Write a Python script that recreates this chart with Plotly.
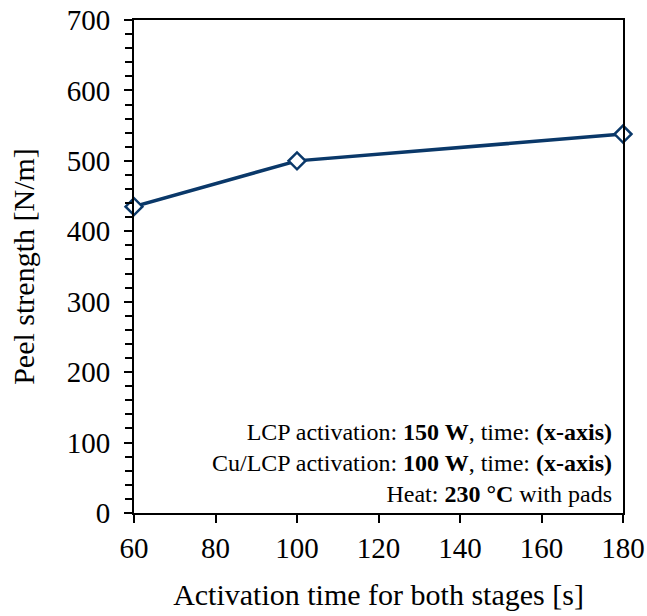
import plotly.graph_objects as go

time_s = [60, 100, 180]
peel_strength = [435, 500, 538]
x_ticks = [60, 80, 100, 120, 140, 160, 180]
y_ticks = [0, 100, 200, 300, 400, 500, 600, 700]
note_lines = [
    "LCP activation: <b>150 W</b>, time: <b>(x-axis)</b>",
    "Cu/LCP activation: <b>100 W</b>, time: <b>(x-axis)</b>",
    "Heat: <b>230 °C</b> with pads",
]

FONT = "Liberation Serif"
color = "#0a3869"

fig = go.Figure()
fig.add_trace(go.Scatter(
    x=time_s, y=peel_strength, mode="lines+markers",
    line=dict(color=color, width=3.5),
    marker=dict(symbol="diamond", size=13, color="white",
                line=dict(color=color, width=2.5)),
    cliponaxis=False, showlegend=False,
))

fig.add_annotation(
    x=1, y=0, xref="paper", yref="paper", xanchor="right", yanchor="bottom",
    xshift=-9, yshift=4, align="right", showarrow=False,
    text="<br>".join(note_lines),
    font=dict(family=FONT, size=24, color="black"),
)

axis_common = dict(
    showline=True, linecolor="black", linewidth=2, mirror=True,
    showgrid=False, zeroline=False, ticks="outside", ticklen=8,
    tickwidth=2, tickcolor="black", automargin=False,
    ticklabeloverflow="allow",
    tickfont=dict(family=FONT, size=29, color="black"),
)

fig.update_xaxes(
    range=[60, 180], tickvals=x_ticks, ticklabelstandoff=0,
    title=dict(text="Activation time for both stages [s]",
               font=dict(family=FONT, size=30, color="black"), standoff=21),
    **axis_common,
)
fig.update_yaxes(
    range=[0, 700], tickvals=y_ticks, ticklabelstandoff=8,
    minor=dict(ticks="outside", dtick=20, ticklen=7, tickwidth=2, tickcolor="black"),
    title=dict(text="Peel strength [N/m]",
               font=dict(family=FONT, size=30, color="black"), standoff=23),
    **axis_common,
)

fig.update_layout(
    width=647, height=616,
    margin=dict(l=134, r=24, t=20, b=103),
    paper_bgcolor="white", plot_bgcolor="white",
)

fig.write_html("out.html")
